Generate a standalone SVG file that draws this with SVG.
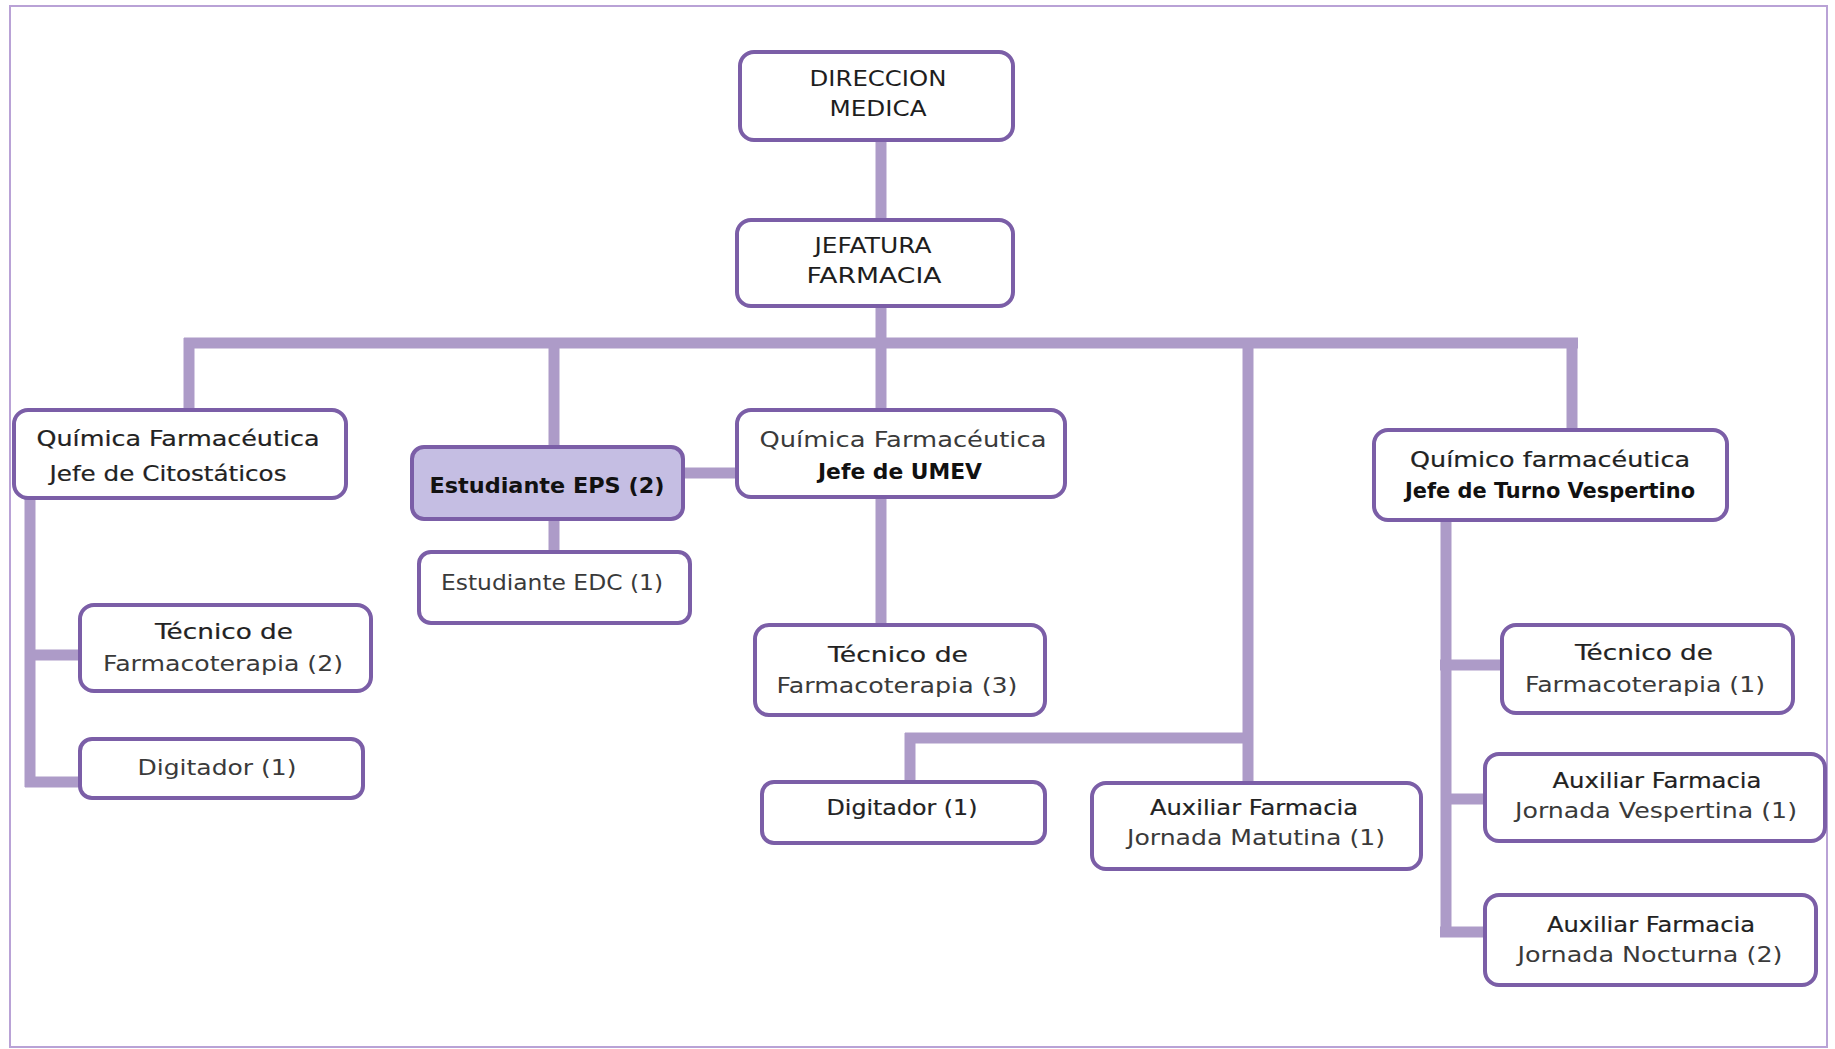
<svg xmlns="http://www.w3.org/2000/svg" width="1835" height="1049" viewBox="0 0 1835 1049">
<style>
.frame{fill:#fff;stroke:#b9a2d6;stroke-width:2}
.box{fill:#fff;stroke:#7b5ea7;stroke-width:4}
.eps{fill:#c5bee3}
.conn line{stroke:#ad9bc8;stroke-width:11;stroke-linecap:butt}
text{font-family:"DejaVu Sans","Liberation Sans",sans-serif;font-size:21px;fill:#1e1e1e;text-anchor:middle}
.b{font-weight:bold;fill:#111}
.m{fill:#222;stroke:#222;stroke-width:0.2}
.l{fill:#3a3a3a}
</style>
<rect class="frame" x="10" y="6" width="1817" height="1041"/>
<g id="connectors" class="conn">
<line x1="881" y1="140" x2="881" y2="220"/>
<line x1="881" y1="306" x2="881" y2="343"/>
<line x1="184" y1="343" x2="1578" y2="343"/>
<line x1="189" y1="338" x2="189" y2="410"/>
<line x1="554" y1="343" x2="554" y2="447"/>
<line x1="881" y1="343" x2="881" y2="410"/>
<line x1="1248" y1="343" x2="1248" y2="783"/>
<line x1="1572" y1="338" x2="1572" y2="430"/>
<line x1="683" y1="473" x2="737" y2="473"/>
<line x1="554" y1="519" x2="554" y2="552"/>
<line x1="30" y1="498" x2="30" y2="787"/>
<line x1="25" y1="655" x2="80" y2="655"/>
<line x1="25" y1="782" x2="80" y2="782"/>
<line x1="881" y1="497" x2="881" y2="625"/>
<line x1="905" y1="738" x2="1253" y2="738"/>
<line x1="910" y1="733" x2="910" y2="782"/>
<line x1="1446" y1="520" x2="1446" y2="937"/>
<line x1="1440" y1="665" x2="1502" y2="665"/>
<line x1="1446" y1="799" x2="1502" y2="799"/>
<line x1="1440" y1="932" x2="1485" y2="932"/>
</g>
<g id="direccion">
<rect class="box" x="740" y="52" width="273" height="88" rx="14"/>
<text x="878" y="86" textLength="137" lengthAdjust="spacingAndGlyphs">DIRECCION</text>
<text x="878" y="116" textLength="97" lengthAdjust="spacingAndGlyphs">MEDICA</text>
</g>
<g id="jefatura">
<rect class="box" x="737" y="220" width="276" height="86" rx="14"/>
<text x="873" y="253" textLength="117" lengthAdjust="spacingAndGlyphs">JEFATURA</text>
<text x="874" y="283" textLength="135" lengthAdjust="spacingAndGlyphs">FARMACIA</text>
</g>
<g id="citostaticos">
<rect class="box" x="14" y="410" width="332" height="88" rx="14"/>
<text class="m" x="178" y="446" textLength="283" lengthAdjust="spacingAndGlyphs">Química Farmacéutica</text>
<text class="m" x="168" y="481" textLength="237" lengthAdjust="spacingAndGlyphs">Jefe de Citostáticos</text>
</g>
<g id="eps">
<rect class="box eps" x="412" y="447" width="271" height="72" rx="12"/>
<text class="b" x="547" y="493" textLength="235" lengthAdjust="spacingAndGlyphs">Estudiante EPS (2)</text>
</g>
<g id="edc">
<rect class="box" x="419" y="552" width="271" height="71" rx="12"/>
<text class="l" x="552" y="590" textLength="222" lengthAdjust="spacingAndGlyphs">Estudiante EDC (1)</text>
</g>
<g id="umev">
<rect class="box" x="737" y="410" width="328" height="87" rx="14"/>
<text class="l" x="903" y="447" textLength="287" lengthAdjust="spacingAndGlyphs">Química Farmacéutica</text>
<text class="b" x="900" y="479" textLength="164" lengthAdjust="spacingAndGlyphs">Jefe de UMEV</text>
</g>
<g id="vespertino">
<rect class="box" x="1374" y="430" width="353" height="90" rx="14"/>
<text class="m" x="1550" y="467" textLength="280" lengthAdjust="spacingAndGlyphs">Químico farmacéutica</text>
<text class="b" x="1550" y="498" textLength="290" lengthAdjust="spacingAndGlyphs">Jefe de Turno Vespertino</text>
</g>
<g id="tecnico2">
<rect class="box" x="80" y="605" width="291" height="86" rx="14"/>
<text class="m" x="224" y="639" textLength="138" lengthAdjust="spacingAndGlyphs">Técnico de</text>
<text class="l" x="223" y="671" textLength="240" lengthAdjust="spacingAndGlyphs">Farmacoterapia (2)</text>
</g>
<g id="digitador1">
<rect class="box" x="80" y="739" width="283" height="59" rx="12"/>
<text class="l" x="217" y="775" textLength="159" lengthAdjust="spacingAndGlyphs">Digitador (1)</text>
</g>
<g id="tecnico3">
<rect class="box" x="755" y="625" width="290" height="90" rx="14"/>
<text class="m" x="898" y="662" textLength="140" lengthAdjust="spacingAndGlyphs">Técnico de</text>
<text class="l" x="897" y="693" textLength="241" lengthAdjust="spacingAndGlyphs">Farmacoterapia (3)</text>
</g>
<g id="digitador2">
<rect class="box" x="762" y="782" width="283" height="61" rx="12"/>
<text class="m" x="902" y="815" textLength="151" lengthAdjust="spacingAndGlyphs">Digitador (1)</text>
</g>
<g id="matutina">
<rect class="box" x="1092" y="783" width="329" height="86" rx="14"/>
<text class="m" x="1254" y="815" textLength="208" lengthAdjust="spacingAndGlyphs">Auxiliar Farmacia</text>
<text class="l" x="1256" y="845" textLength="258" lengthAdjust="spacingAndGlyphs">Jornada Matutina (1)</text>
</g>
<g id="tecnico1">
<rect class="box" x="1502" y="625" width="291" height="88" rx="14"/>
<text class="m" x="1644" y="660" textLength="138" lengthAdjust="spacingAndGlyphs">Técnico de</text>
<text class="l" x="1645" y="692" textLength="240" lengthAdjust="spacingAndGlyphs">Farmacoterapia (1)</text>
</g>
<g id="aux-vespertina">
<rect class="box" x="1485" y="754" width="340" height="87" rx="14"/>
<text class="m" x="1657" y="788" textLength="209" lengthAdjust="spacingAndGlyphs">Auxiliar Farmacia</text>
<text class="l" x="1656" y="818" textLength="282" lengthAdjust="spacingAndGlyphs">Jornada Vespertina (1)</text>
</g>
<g id="aux-nocturna">
<rect class="box" x="1485" y="895" width="331" height="90" rx="14"/>
<text class="m" x="1651" y="932" textLength="208" lengthAdjust="spacingAndGlyphs">Auxiliar Farmacia</text>
<text class="l" x="1650" y="962" textLength="265" lengthAdjust="spacingAndGlyphs">Jornada Nocturna (2)</text>
</g>
</svg>
